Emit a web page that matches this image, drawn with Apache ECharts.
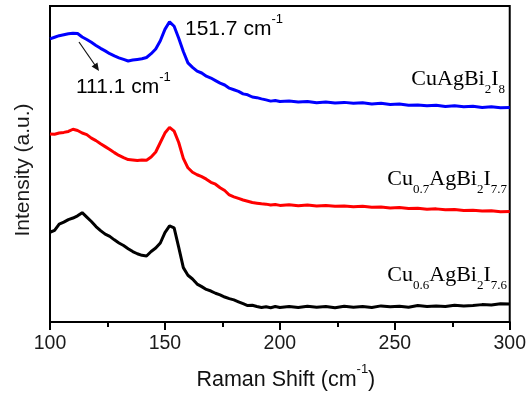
<!DOCTYPE html>
<html>
<head>
<meta charset="utf-8">
<script src="https://cdn.jsdelivr.net/npm/echarts@6/dist/echarts.min.js"></script>
<style>
  html, body { margin: 0; padding: 0; background: #fff; }
  #chart { width: 529px; height: 401px; }
</style>
</head>
<body>
<div id="chart"></div>
<script>
// Raman shift (cm-1) sample points, shared by the three spectra
var shift = [100,102,104,106,108,110,112,114,116,118,120,122,124,126,128,130,132,134,136,138,
  140,142,144,146,148,150,152,154,156,158,160,162,164,166,168,170,172,174,176,178,
  180,182,184,186,188,190,192,194,196,198,200,
  204,208,212,216,220,224,228,232,236,240,244,248,252,256,260,264,268,272,276,280,284,288,292,296,300];

// CuAgBi2I8 (blue)
var cuAgBi2I8 = [89.6,90.1,90.6,90.9,91.2,91.4,91.3,90.2,89.4,88.5,87.5,86.6,85.8,84.9,84.2,83.6,83.1,82.6,82.9,83.1,
  83.3,83.7,84.9,86.4,89.0,92.6,95.0,93.6,89.8,85.6,82.0,80.6,79.4,78.8,77.8,77.2,76.4,75.6,75.0,74.0,
  73.5,73.0,72.2,71.9,71.2,71.0,70.6,70.3,69.9,70.1,69.8,
  69.9,69.6,69.8,69.4,69.6,69.3,69.5,69.2,69.4,69.0,69.2,68.8,69.0,68.6,68.7,68.4,68.6,68.2,68.4,68.1,68.3,67.9,68.1,67.8,67.9];

// Cu0.7AgBi2I7.7 (red)
var cu07 = [59.5,59.4,59.8,60.0,60.3,61.0,60.6,59.8,59.3,58.2,57.4,56.4,55.5,54.6,53.6,52.7,52.0,51.4,51.3,51.1,
  51.3,51.2,52.2,53.8,56.8,59.8,61.6,60.4,56.8,51.8,48.8,47.4,46.6,46.0,45.2,44.2,43.6,42.5,41.6,40.2,
  39.6,39.1,38.6,38.2,37.8,37.6,37.4,37.3,37.0,37.2,36.9,
  37.1,36.8,37.0,36.7,36.9,36.6,36.7,36.5,36.6,36.3,36.4,36.1,36.2,35.9,36.0,35.7,35.8,35.5,35.6,35.3,35.4,35.1,35.2,34.9,35.0];

// Cu0.6AgBi2I7.6 (black)
var cu06 = [28.4,29.0,31.0,31.6,32.4,32.9,33.6,34.6,33.2,31.8,30.2,28.9,27.8,27.1,26.0,25.0,24.2,23.2,22.3,21.6,
  21.1,20.9,22.3,23.4,25.0,28.3,30.4,29.8,23.6,17.2,14.8,13.6,12.0,11.2,10.3,9.8,9.1,8.6,7.9,7.4,
  7.0,6.4,5.8,5.2,5.3,4.9,4.6,4.8,4.5,4.9,4.6,
  4.9,4.6,5.0,4.7,4.9,4.5,5.0,4.7,4.9,4.6,5.1,4.8,5.0,4.7,5.2,4.9,5.1,4.9,5.3,5.1,5.2,5.5,5.4,5.8,5.7];

var xTicks = [100, 150, 200, 250, 300];

function pairs(ys) {
  return shift.map(function (x, i) { return [x, ys[i]]; });
}

var sans = '"Liberation Sans", Arial, sans-serif';
var serif = '"Liberation Serif", "Times New Roman", serif';

// rich styles for the formula labels (subscripts) and cm-1 superscripts
var formulaRich = {
  n: { fontFamily: serif, fontSize: 22, lineHeight: 22, verticalAlign: 'top', color: '#111' },
  s: { fontFamily: serif, fontSize: 13, lineHeight: 13, padding: [15, 0, 0, 0], verticalAlign: 'top', color: '#111' }
};
var unitRich = {
  a: { fontFamily: sans, fontSize: 21, lineHeight: 21, padding: [6, 0, 0, 0], verticalAlign: 'top', color: '#111' },
  b: { fontFamily: sans, fontSize: 13, lineHeight: 13, verticalAlign: 'top', color: '#111' }
};
var titleRich = {
  a: { fontFamily: sans, fontSize: 21.5, lineHeight: 21, padding: [6, 0, 0, 0], verticalAlign: 'top', color: '#111' },
  b: { fontFamily: sans, fontSize: 13, lineHeight: 13, verticalAlign: 'top', color: '#111' }
};

var chart = echarts.init(document.getElementById('chart'));
var option = {
  animation: false,
  backgroundColor: '#fff',
  grid: {
    left: 50, right: 19, top: 6, bottom: 79,
    show: true, borderColor: '#000', borderWidth: 2
  },
  xAxis: {
    type: 'value',
    min: xTicks[0], max: xTicks[xTicks.length - 1], interval: 50,
    name: '{a|Raman Shift (cm}{b|-1}{a|)}',
    nameLocation: 'middle',
    nameGap: 41,
    nameTextStyle: { rich: titleRich, padding: [0, 0, 0, 12] },
    axisLine: { show: true, lineStyle: { color: '#000', width: 2 } },
    axisTick: { show: true, inside: false, length: 8, lineStyle: { color: '#000', width: 2 } },
    minorTick: { show: true, splitNumber: 2, length: 5, lineStyle: { color: '#000', width: 2 } },
    axisLabel: { fontFamily: sans, fontSize: 19.5, color: '#1a1a1a', margin: 12 },
    splitLine: { show: false }
  },
  yAxis: {
    type: 'value',
    min: 0, max: 100,
    axisLine: { show: true, lineStyle: { color: '#000', width: 2 } },
    axisTick: { show: false },
    axisLabel: { show: false },
    splitLine: { show: false }
  },
  series: [
    { name: 'CuAgBi2I8', type: 'line', data: pairs(cuAgBi2I8), showSymbol: false,
      lineStyle: { color: '#0000ff', width: 3 } },
    { name: 'Cu0.7AgBi2I7.7', type: 'line', data: pairs(cu07), showSymbol: false,
      lineStyle: { color: '#ff0000', width: 3 } },
    { name: 'Cu0.6AgBi2I7.6', type: 'line', data: pairs(cu06), showSymbol: false,
      lineStyle: { color: '#000000', width: 3 } }
  ],
  graphic: [
    { type: 'text', x: 23, y: 170, rotation: Math.PI / 2,
      style: { text: 'Intensity (a.u.)', fontFamily: sans, fontSize: 21, fill: '#1a1a1a',
        align: 'center', verticalAlign: 'middle' } },
    { type: 'text', left: 185, top: 13,
      style: { text: '{a|151.7 cm}{b|-1}', rich: unitRich } },
    { type: 'text', left: 76, top: 71,
      style: { text: '{a|111.1 cm}{b|-1}', rich: unitRich } },
    { type: 'line', shape: { x1: 79, y1: 42, x2: 97, y2: 68 },
      style: { stroke: '#111', lineWidth: 1.2 } },
    { type: 'polygon', shape: { points: [[99, 71], [91.6, 66.4], [97.4, 62.4]] },
      style: { fill: '#111' } },
    { type: 'text', right: 24, top: 68,
      style: { text: '{n|CuAgBi}{s|2}{n|I}{s|8}', rich: formulaRich } },
    { type: 'text', right: 22, top: 168,
      style: { text: '{n|Cu}{s|0.7}{n|AgBi}{s|2}{n|I}{s|7.7}', rich: formulaRich } },
    { type: 'text', right: 22, top: 264,
      style: { text: '{n|Cu}{s|0.6}{n|AgBi}{s|2}{n|I}{s|7.6}', rich: formulaRich } }
  ]
};
chart.setOption(option);
</script>
</body>
</html>
